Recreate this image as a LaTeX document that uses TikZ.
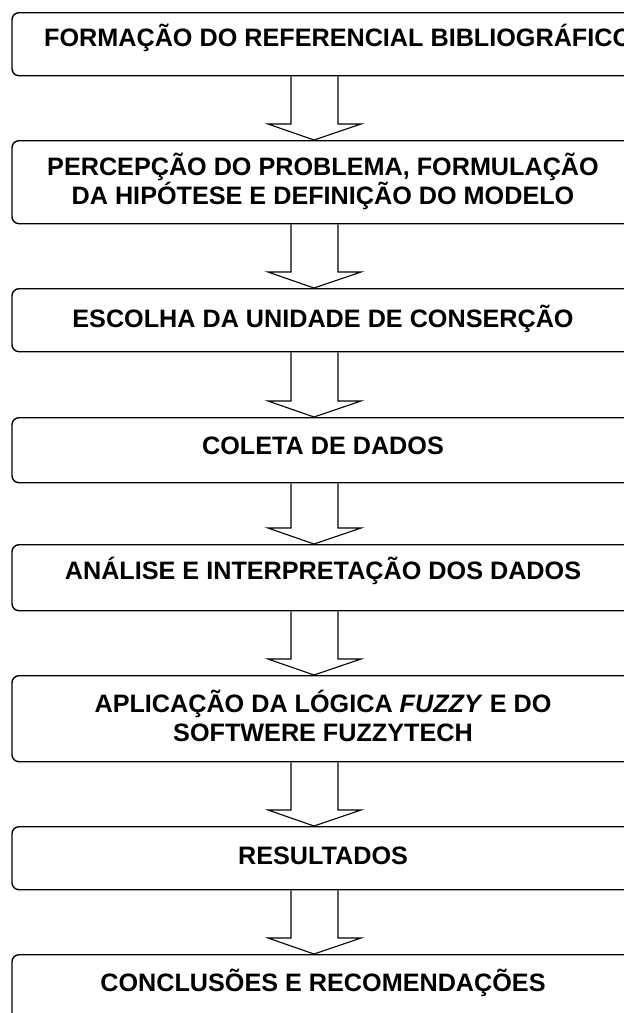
\documentclass[tikz,border=0pt]{standalone}
\usepackage{fontspec}
\setmainfont{Liberation Sans}
\usetikzlibrary{calc}

\begin{document}
\begin{tikzpicture}[
  x=1pt, y=1pt,
  stepbox/.style={draw,line width=1.4pt,rounded corners=7pt,minimum width=622pt,inner sep=0pt,anchor=north},
  steptext/.style={font=\fontsize{25.2}{29}\selectfont\bfseries,align=center,anchor=base,inner sep=0pt},
  blockarrow/.style={line width=1.1pt,line join=miter}
]
  \useasboundingbox (0,0) rectangle (624,-1013);
  \clip (0,0) rectangle (624,-1013);

  % boxes
  \node[stepbox,minimum height=63pt] (formacao)   at (323,-12)  {};
  \node[stepbox,minimum height=83pt] (percepcao)  at (323,-140) {};
  \node[stepbox,minimum height=63pt] (escolha)    at (323,-288) {};
  \node[stepbox,minimum height=65pt] (coleta)     at (323,-417) {};
  \node[stepbox,minimum height=66pt] (analise)    at (323,-544) {};
  \node[stepbox,minimum height=86pt] (aplicacao)  at (323,-675) {};
  \node[stepbox,minimum height=63pt] (resultados) at (323,-826) {};
  \node[stepbox,minimum height=90pt] (conclusoes) at (323,-954) {};

  % texts (base = last line)
  \node[steptext,anchor=base west] (formacao-txt) at (44,-46) {FORMAÇÃO DO REFERENCIAL BIBLIOGRÁFICO};
  \node[steptext] (percepcao-txt)  at (323,-204) {PERCEPÇÃO DO PROBLEMA, FORMULAÇÃO\\ DA HIPÓTESE E DEFINIÇÃO DO MODELO};
  \node[steptext] (escolha-txt)    at (323,-327) {ESCOLHA DA UNIDADE DE CONSERÇÃO};
  \node[steptext] (coleta-txt)     at (323,-454) {COLETA DE DADOS};
  \node[steptext] (analise-txt)    at (323,-579) {ANÁLISE E INTERPRETAÇÃO DOS DADOS};
  \node[steptext] (aplicacao-txt)  at (323,-741) {APLICAÇÃO DA LÓGICA \textit{FUZZY} E DO\\ SOFTWERE FUZZYTECH};
  \node[steptext] (resultados-txt) at (323,-864) {RESULTADOS};
  \node[steptext] (conclusoes-txt) at (323,-991) {CONCLUSÕES E RECOMENDAÇÕES};

  % block arrows
  \foreach \a/\b in {formacao/percepcao,percepcao/escolha,escolha/coleta,coleta/analise,
                     analise/aplicacao,aplicacao/resultados,resultados/conclusoes}
    \draw[blockarrow] ([xshift=-32pt]\a.south) -- ([xshift=-32pt,yshift=16pt]\b.north)
      -- ([xshift=-55pt,yshift=16pt]\b.north) -- ([xshift=-9pt]\b.north)
      -- ([xshift=38pt,yshift=16pt]\b.north) -- ([xshift=15pt,yshift=16pt]\b.north)
      -- ([xshift=15pt]\a.south);
\end{tikzpicture}
\end{document}
